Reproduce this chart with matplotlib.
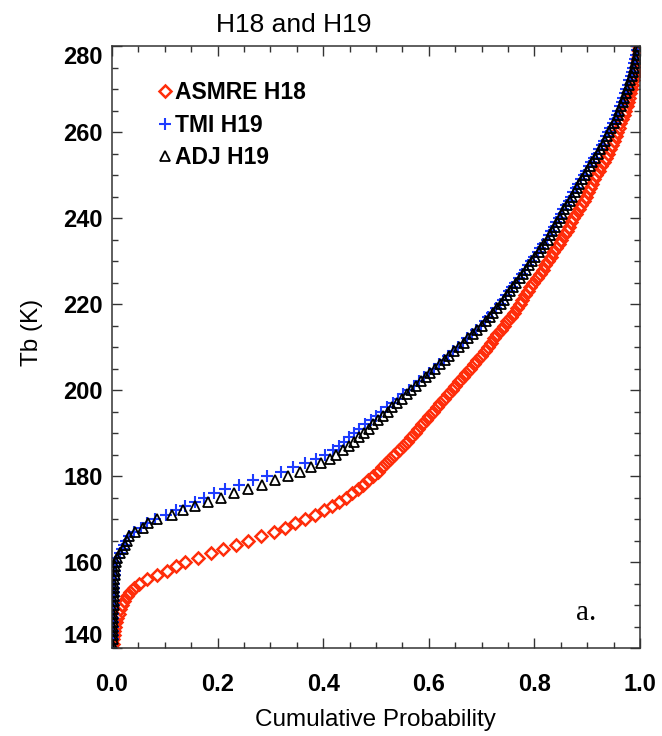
import matplotlib
matplotlib.use("Agg")
import matplotlib.pyplot as plt
from matplotlib.ticker import MultipleLocator, FixedLocator, FixedFormatter

# Brightness temperature levels (K) at which the cumulative distributions are sampled
tb_k = list(range(140, 281))

# Cumulative probability of each Tb level
asmre_h18 = [
    0.000, 0.001, 0.002, 0.003, 0.004, 0.006, 0.008, 0.010, 0.013, 0.016,
    0.019, 0.023, 0.028, 0.034, 0.042, 0.052, 0.066, 0.085, 0.104, 0.121,
    0.139, 0.162, 0.188, 0.211, 0.234, 0.258, 0.283, 0.306, 0.327, 0.347,
    0.366, 0.384, 0.401, 0.416, 0.430, 0.443, 0.455, 0.466, 0.475, 0.485,
    0.494, 0.503, 0.511, 0.519, 0.527, 0.535, 0.543, 0.551, 0.559, 0.566,
    0.573, 0.580, 0.587, 0.594, 0.601, 0.608, 0.615, 0.622, 0.629, 0.636,
    0.643, 0.650, 0.657, 0.664, 0.671, 0.678, 0.685, 0.692, 0.699, 0.706,
    0.712, 0.718, 0.724, 0.730, 0.737, 0.743, 0.749, 0.755, 0.761, 0.767,
    0.772, 0.777, 0.782, 0.787, 0.792, 0.798, 0.804, 0.810, 0.816, 0.821,
    0.826, 0.831, 0.836, 0.841, 0.846, 0.851, 0.856, 0.861, 0.866, 0.870,
    0.874, 0.879, 0.884, 0.889, 0.893, 0.897, 0.901, 0.905, 0.909, 0.913,
    0.917, 0.922, 0.926, 0.931, 0.935, 0.939, 0.943, 0.947, 0.951, 0.954,
    0.957, 0.960, 0.963, 0.966, 0.969, 0.972, 0.975, 0.977, 0.979, 0.981,
    0.983, 0.985, 0.987, 0.989, 0.991, 0.993, 0.994, 0.995, 0.996, 0.997,
    0.998,
]

tmi_h19 = [
    0.000, 0.000, 0.001, 0.001, 0.001, 0.001, 0.002, 0.002, 0.002, 0.002,
    0.003, 0.003, 0.003, 0.003, 0.004, 0.004, 0.004, 0.005, 0.005, 0.006,
    0.006, 0.009, 0.015, 0.019, 0.023, 0.027, 0.032, 0.042, 0.054, 0.066,
    0.082, 0.103, 0.121, 0.139, 0.157, 0.175, 0.193, 0.214, 0.240, 0.267,
    0.294, 0.320, 0.343, 0.365, 0.386, 0.403, 0.418, 0.430, 0.440, 0.449,
    0.458, 0.468, 0.479, 0.490, 0.500, 0.510, 0.521, 0.532, 0.542, 0.552,
    0.562, 0.572, 0.582, 0.591, 0.600, 0.610, 0.619, 0.628, 0.637, 0.646,
    0.655, 0.664, 0.673, 0.682, 0.690, 0.698, 0.706, 0.713, 0.720, 0.727,
    0.734, 0.740, 0.746, 0.752, 0.758, 0.764, 0.770, 0.776, 0.782, 0.788,
    0.794, 0.800, 0.806, 0.811, 0.817, 0.823, 0.828, 0.832, 0.837, 0.841,
    0.846, 0.850, 0.855, 0.860, 0.865, 0.869, 0.874, 0.878, 0.883, 0.888,
    0.893, 0.898, 0.903, 0.908, 0.913, 0.918, 0.923, 0.928, 0.932, 0.936,
    0.940, 0.944, 0.948, 0.952, 0.956, 0.959, 0.962, 0.965, 0.968, 0.971,
    0.974, 0.977, 0.980, 0.983, 0.985, 0.987, 0.989, 0.991, 0.993, 0.994,
    0.995,
]

adj_h19 = [
    0.000, 0.000, 0.001, 0.001, 0.001, 0.001, 0.002, 0.002, 0.002, 0.002,
    0.003, 0.003, 0.003, 0.003, 0.004, 0.004, 0.004, 0.005, 0.005, 0.006,
    0.007, 0.010, 0.016, 0.020, 0.024, 0.028, 0.033, 0.044, 0.058, 0.069,
    0.085, 0.113, 0.135, 0.158, 0.182, 0.207, 0.232, 0.258, 0.284, 0.309,
    0.333, 0.356, 0.377, 0.396, 0.412, 0.425, 0.437, 0.448, 0.458, 0.468,
    0.477, 0.486, 0.495, 0.504, 0.513, 0.522, 0.531, 0.540, 0.549, 0.558,
    0.567, 0.576, 0.585, 0.594, 0.603, 0.612, 0.621, 0.630, 0.639, 0.648,
    0.657, 0.666, 0.675, 0.684, 0.692, 0.700, 0.708, 0.715, 0.722, 0.729,
    0.736, 0.742, 0.748, 0.754, 0.760, 0.766, 0.772, 0.778, 0.784, 0.790,
    0.796, 0.802, 0.808, 0.813, 0.819, 0.825, 0.830, 0.834, 0.839, 0.843,
    0.848, 0.852, 0.857, 0.862, 0.867, 0.871, 0.876, 0.880, 0.885, 0.890,
    0.895, 0.900, 0.905, 0.910, 0.915, 0.920, 0.925, 0.930, 0.934, 0.938,
    0.942, 0.946, 0.950, 0.954, 0.958, 0.961, 0.964, 0.967, 0.970, 0.973,
    0.976, 0.979, 0.982, 0.985, 0.987, 0.989, 0.991, 0.993, 0.995, 0.996,
    0.997,
]

series_labels = ["ASMRE H18", "TMI H19", "ADJ H19"]
x_ticks = [0.0, 0.2, 0.4, 0.6, 0.8, 1.0]
x_tick_labels = ["0.0", "0.2", "0.4", "0.6", "0.8", "1.0"]
y_ticks = [140, 160, 180, 200, 220, 240, 260, 280]
y_tick_labels = ["140", "160", "180", "200", "220", "240", "260", "280"]

plt.rcParams["font.family"] = ["Liberation Sans", "DejaVu Sans"]

RED = "#ff2d0a"
BLUE = "#1e3cff"
W, H = 662, 736

fig = plt.figure(figsize=(W / 100, H / 100), dpi=100)
ax = fig.add_axes([112 / W, 1 - 648 / H, 528 / W, 602 / H])

l_red, = ax.plot(asmre_h18, tb_k, ls="none", marker="D", ms=5.8, mfc="none",
                 mec=RED, mew=1.8, label=series_labels[0])
l_blue, = ax.plot(tmi_h19, tb_k, ls="none", marker="+", ms=8.5, mec=BLUE,
                  mew=1.5, label=series_labels[1])
l_blk, = ax.plot(adj_h19, tb_k, ls="none", marker="^", ms=7.5, mfc="none",
                 mec="black", mew=1.3, label=series_labels[2])

ax.set_xlim(0, 1)
ax.set_ylim(140, 280)

ax.xaxis.set_major_locator(FixedLocator(x_ticks))
ax.xaxis.set_major_formatter(FixedFormatter(x_tick_labels))
ax.yaxis.set_major_locator(FixedLocator(y_ticks))
ax.yaxis.set_major_formatter(FixedFormatter(y_tick_labels))
ax.xaxis.set_minor_locator(MultipleLocator(0.05))
ax.yaxis.set_minor_locator(MultipleLocator(5))

ax.tick_params(which="both", direction="in", top=True, right=True,
               width=1.0, color="#333333")
ax.tick_params(which="major", length=7.2)
ax.tick_params(which="minor", length=4.0)
ax.tick_params(axis="x", which="major", pad=18)
ax.tick_params(axis="y", which="major", pad=6.5)
for spine in ax.spines.values():
    spine.set_linewidth(1.1)
    spine.set_color("#333333")

for lab in ax.get_xticklabels() + ax.get_yticklabels():
    lab.set_fontsize(17)
    lab.set_fontweight("bold")

# keep the end labels of the y axis inside the frame
ylabs = ax.get_yticklabels()
ylabs[0].set_va("bottom")
ylabs[-1].set_va("top")

fig.text(293.5 / W, 1 - 32 / H, "H18 and H19", ha="center", va="baseline",
         fontsize=19)
fig.text(375.5 / W, 1 - 726 / H, "Cumulative Probability", ha="center",
         va="baseline", fontsize=17.5)
fig.text(32 / W, 1 - 332 / H, "Tb (K)", ha="center", va="center",
         rotation=90, fontsize=17.5)
fig.text(576 / W, 1 - 620 / H, "a.", ha="left", va="baseline", fontsize=21,
         family=["Liberation Serif", "DejaVu Serif"])

ax.legend(handles=[l_red, l_blue, l_blk], loc="upper left",
          bbox_to_anchor=(0.087, 0.942), frameon=False, numpoints=1,
          handlelength=0.6, handletextpad=0.15, labelspacing=0.42,
          borderpad=0, borderaxespad=0,
          prop={"family": ["Liberation Sans", "DejaVu Sans"],
                "weight": "bold", "size": 16.5})

fig.savefig("out.png", dpi=100)
